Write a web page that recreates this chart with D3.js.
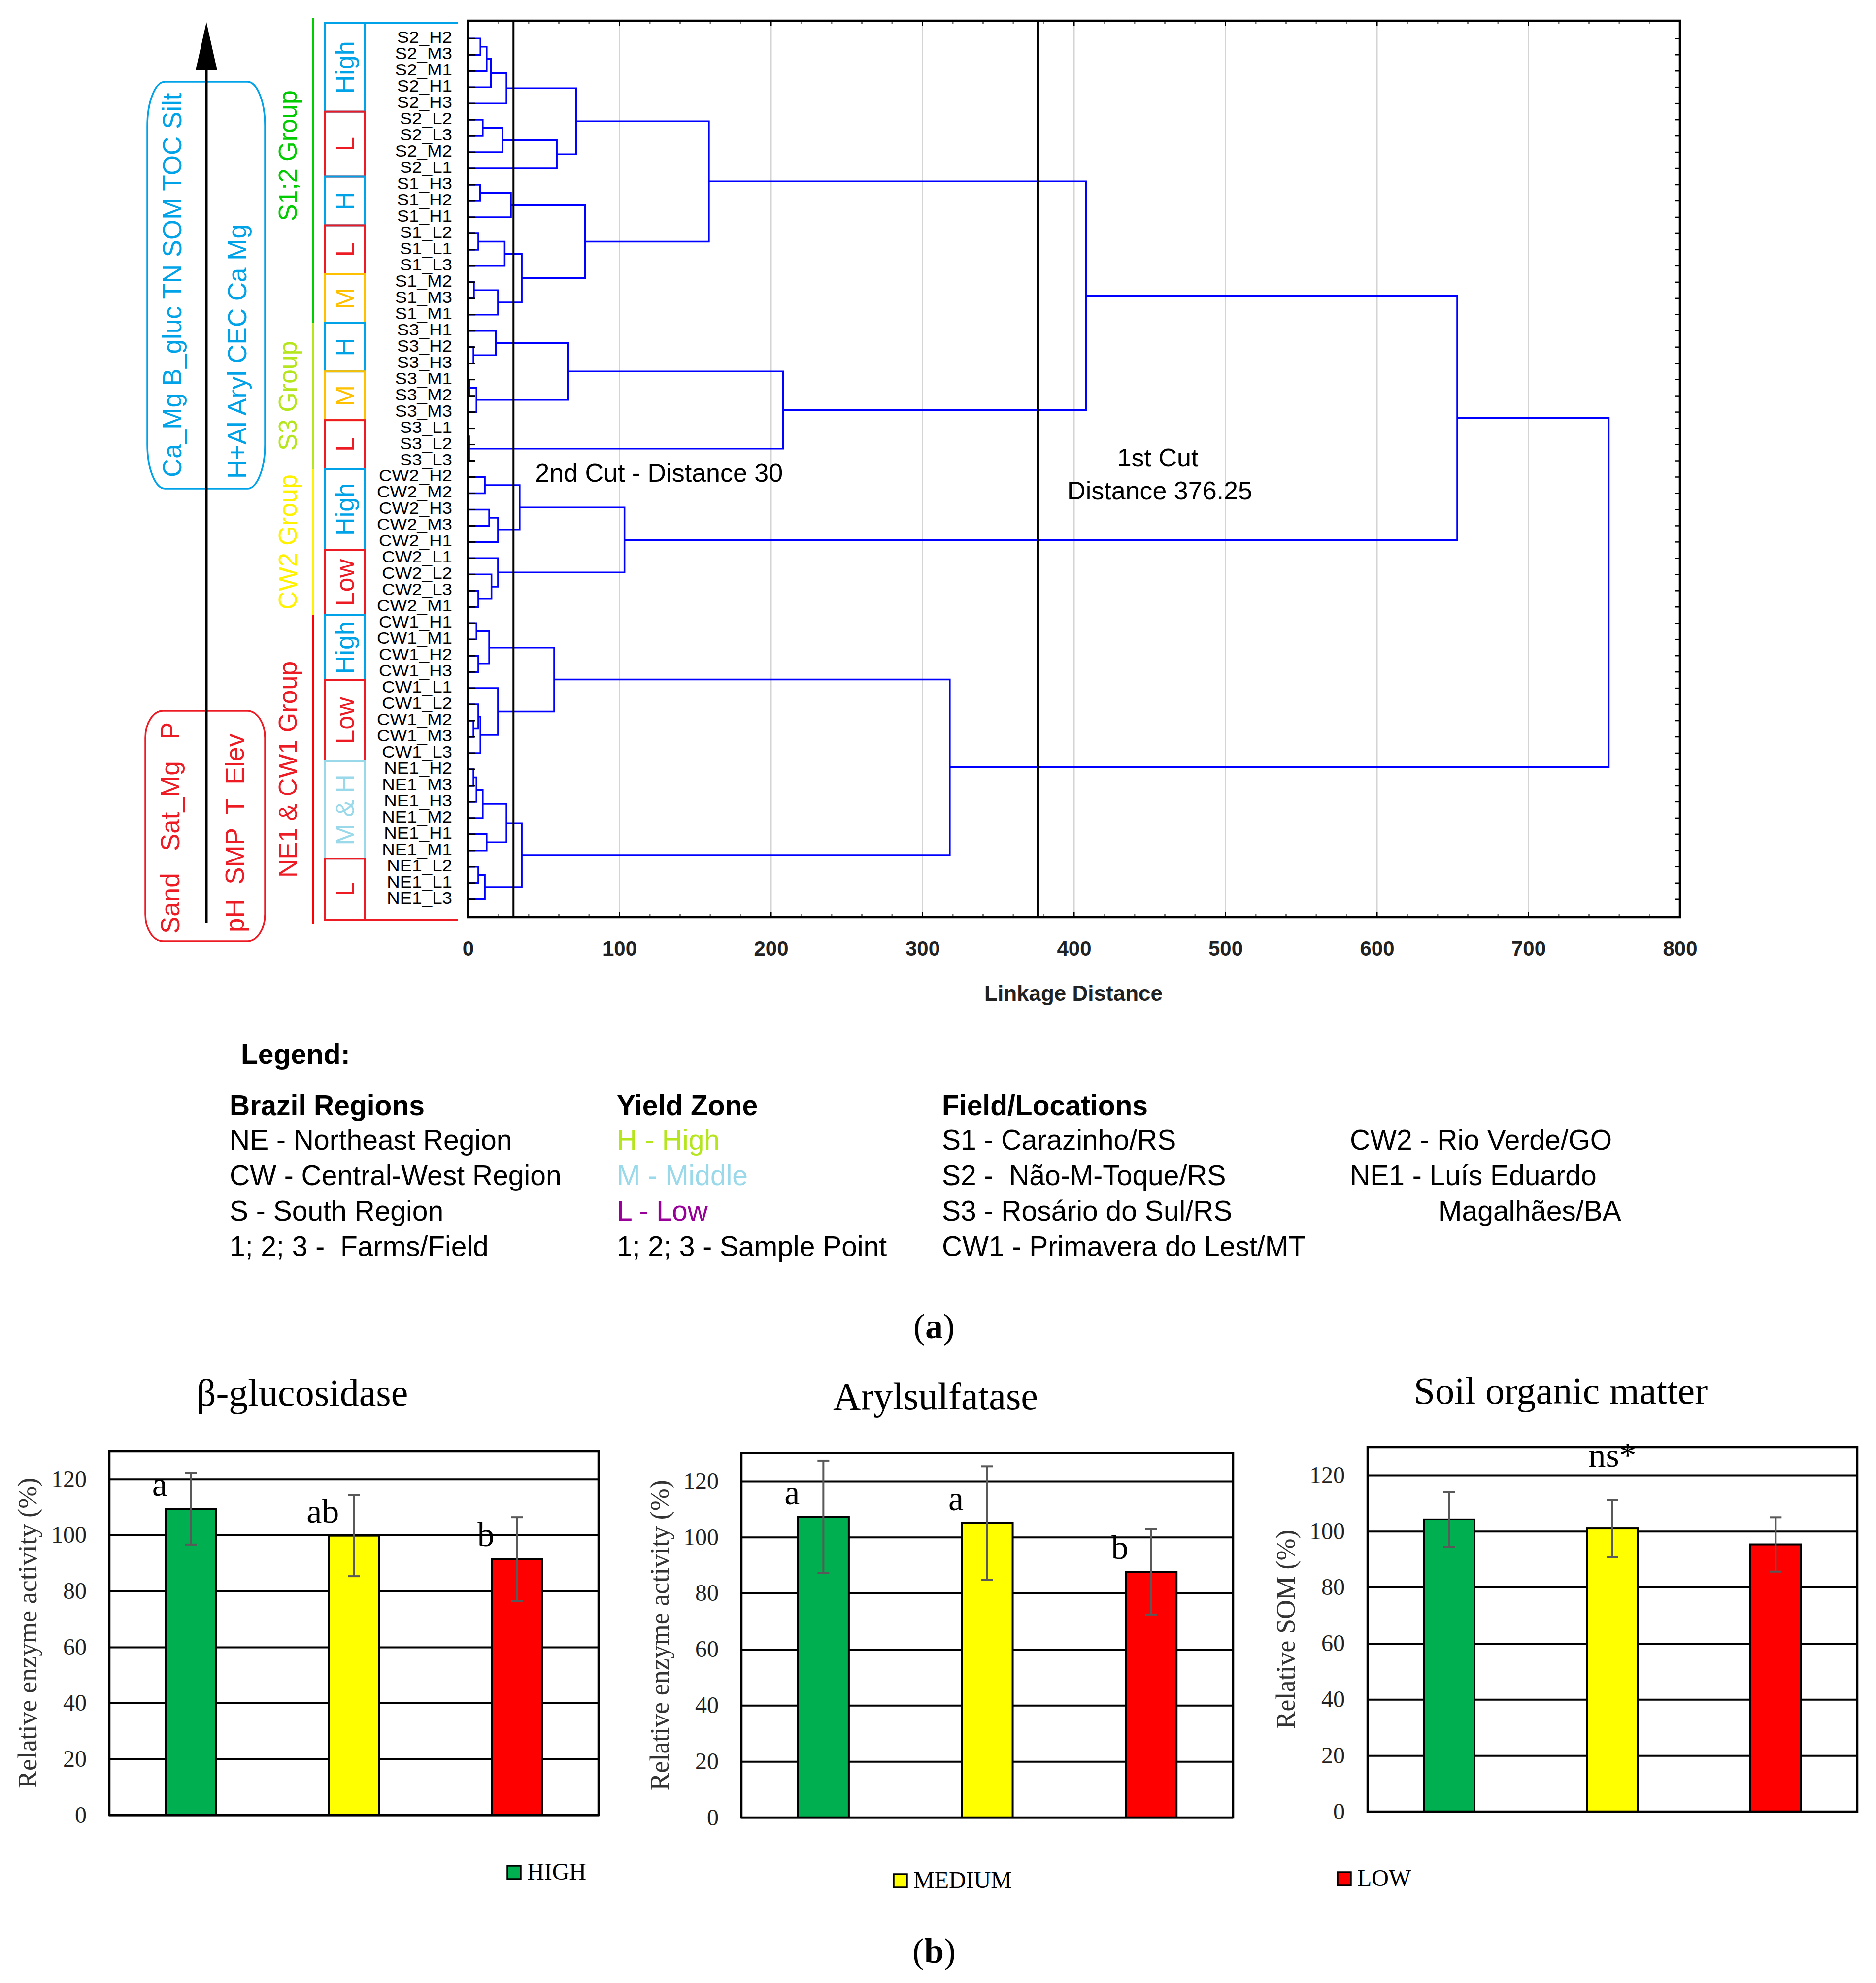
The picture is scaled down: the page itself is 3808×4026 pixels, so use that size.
<!DOCTYPE html>
<html>
<head>
<meta charset="utf-8">
<script src="https://cdn.jsdelivr.net/npm/d3@7"></script>
<style>
  html, body { margin: 0; padding: 0; background: #fff; }
  svg { display: block; }
  text { white-space: pre; }
</style>
</head>
<body>
<svg id="chart" width="3808" height="4026"></svg>
<script>
// ---- dendrogram data ----
const leafLabels = [
  'S2_H2', 'S2_M3', 'S2_M1', 'S2_H1', 'S2_H3', 'S2_L2', 'S2_L3', 'S2_M2', 'S2_L1',
  'S1_H3', 'S1_H2', 'S1_H1', 'S1_L2', 'S1_L1', 'S1_L3', 'S1_M2', 'S1_M3', 'S1_M1',
  'S3_H1', 'S3_H2', 'S3_H3', 'S3_M1', 'S3_M2', 'S3_M3', 'S3_L1', 'S3_L2', 'S3_L3',
  'CW2_H2', 'CW2_M2', 'CW2_H3', 'CW2_M3', 'CW2_H1', 'CW2_L1', 'CW2_L2', 'CW2_L3', 'CW2_M1',
  'CW1_H1', 'CW1_M1', 'CW1_H2', 'CW1_H3', 'CW1_L1', 'CW1_L2', 'CW1_M2', 'CW1_M3', 'CW1_L3',
  'NE1_H2', 'NE1_M3', 'NE1_H3', 'NE1_M2', 'NE1_H1', 'NE1_M1', 'NE1_L2', 'NE1_L1', 'NE1_L3'
];

// [left, right, linkage distance]; 'mN' is the cluster made by the Nth row
const merges = [
  ['S2_H2', 'S2_M3', 8.2], ['m1', 'S2_M1', 12.3], ['m2', 'S2_H1', 15.2], ['m3', 'S2_H3', 25.4],
  ['S2_L2', 'S2_L3', 9.7], ['m5', 'S2_M2', 22.7], ['m6', 'S2_L1', 58.6], ['m4', 'm7', 71.4],
  ['S1_H3', 'S1_H2', 7.9], ['m9', 'S1_H1', 28.3], ['S1_L2', 'S1_L1', 6.8], ['m11', 'S1_L3', 24.2],
  ['S1_M2', 'S1_M3', 3.9], ['m13', 'S1_M1', 19.8], ['m12', 'm14', 35.5], ['m10', 'm15', 77.2],
  ['m8', 'm16', 159],
  ['S3_H2', 'S3_H3', 3.6], ['S3_H1', 'm18', 18.4], ['S3_M1', 'S3_M2', 1.0], ['m20', 'S3_M3', 5.6],
  ['m19', 'm21', 65.9], ['S3_L1', 'S3_L2', 0.4], ['m23', 'S3_L3', 0.7], ['m22', 'm24', 208],
  ['m17', 'm25', 408],
  ['CW2_H2', 'CW2_M2', 11.1], ['CW2_H3', 'CW2_M3', 14.0], ['m28', 'CW2_H1', 19.8], ['m27', 'm29', 34.1],
  ['CW2_L3', 'CW2_M1', 6.8], ['CW2_L2', 'm31', 15.5], ['CW2_L1', 'm32', 19.8], ['m30', 'm33', 103.3],
  ['m26', 'm34', 653],
  ['CW1_H1', 'CW1_M1', 5.6], ['CW1_H2', 'CW1_H3', 6.8], ['m36', 'm37', 14.0],
  ['CW1_M2', 'CW1_M3', 3.6], ['CW1_L2', 'm39', 6.8], ['m40', 'CW1_L3', 8.2], ['CW1_L1', 'm41', 19.8],
  ['m38', 'm42', 56.9],
  ['NE1_H2', 'NE1_M3', 3.6], ['m44', 'NE1_H3', 5.6], ['m45', 'NE1_M2', 9.7], ['NE1_H1', 'NE1_M1', 12.3],
  ['m46', 'm47', 25.4], ['NE1_L2', 'NE1_L1', 6.8], ['m49', 'NE1_L3', 11.1], ['m48', 'm50', 35.5],
  ['m43', 'm51', 318],
  ['m35', 'm52', 753]
];

const distanceTicks = [0, 100, 200, 300, 400, 500, 600, 700, 800];
const cutDistances = [30, 376.25];

const zoneLabels = ['High', 'L', 'H', 'L', 'M', 'H', 'M', 'L', 'High', 'Low', 'High', 'Low', 'M & H', 'L'];
const zoneFirstLeaf = [0, 5, 9, 12, 15, 18, 21, 24, 27, 32, 36, 40, 45, 51];
const zoneLastLeaf = [4, 8, 11, 14, 17, 20, 23, 26, 31, 35, 39, 44, 50, 53];

const groupNames = ['S1;2 Group', 'S3 Group', 'CW2 Group', 'NE1 & CW1 Group'];
const groupFirstLeaf = [0, 18, 27, 36];
const groupLastLeaf = [17, 26, 35, 53];
const groupColors = ['#00CC00', '#B5E61D', '#FFF200', '#FF0000'];

const highVars = ['Ca_Mg B_gluc TN SOM TOC Silt', 'H+Al Aryl CEC Ca Mg'];
const lowVars = ['Sand   Sat_Mg   P', 'pH  SMP  T  Elev'];

// ---- legend text ----
const legendHeaders = ['Brazil Regions', 'Yield Zone', 'Field/Locations'];
const regionItems = ['NE - Northeast Region', 'CW - Central-West Region', 'S - South Region', '1; 2; 3 -  Farms/Field'];
const yieldItems = ['H - High', 'M - Middle', 'L - Low', '1; 2; 3 - Sample Point'];
const yieldItemColors = ['#B5E61D', '#99D9EA', '#990099', '#000000'];
const locationItems = ['S1 - Carazinho/RS', 'S2 -  Não-M-Toque/RS', 'S3 - Rosário do Sul/RS', 'CW1 - Primavera do Lest/MT'];
const locationItems2 = ['CW2 - Rio Verde/GO', 'NE1 - Luís Eduardo', 'Magalhães/BA'];

// ---- bar chart data ----
const zones = ['HIGH', 'MEDIUM', 'LOW'];
const zoneFill = ['#00B050', '#FFFF00', '#FF0000'];
const panelTitles = ['β-glucosidase', 'Arylsulfatase', 'Soil organic matter'];
const panelYTitles = ['Relative enzyme activity (%)', 'Relative enzyme activity (%)', 'Relative SOM (%)'];
const bglucMean = [109.4, 99.8, 91.4];
const bglucErr = [12.8, 14.5, 15.0];
const bglucLetters = ['a', 'ab', 'b'];
const arylMean = [107.2, 105.0, 87.6];
const arylErr = [20.0, 20.2, 15.2];
const arylLetters = ['a', 'a', 'b'];
const somMean = [104.2, 101.0, 95.3];
const somErr = [9.8, 10.2, 9.7];
const somLetters = ['', '', ''];
const somNote = 'ns*';
const barTicks = [0, 20, 40, 60, 80, 100, 120];

const SANS = 'Liberation Sans, Arial, sans-serif';
const SERIF = 'Liberation Serif, Times New Roman, serif';
const CYAN = '#00A2E8';
const RED = '#ED1C24';
const zoneColor = { 'High': CYAN, 'H': CYAN, 'L': RED, 'Low': RED, 'M': '#FFC000', 'M & H': '#99D9EA' };

const svg = d3.select('#chart');
svg.append('rect').attr('width', 3808).attr('height', 4026).attr('fill', '#fff');

// ================= dendrogram =================
const dendro = { left: 950, right: 3410, top: 42, bottom: 1862 };
const x = d3.scaleLinear().domain([0, 800]).range([dendro.left, dendro.right]);
const y = d3.scalePoint().domain(leafLabels).range([dendro.top, dendro.bottom]).padding(1.1);
const step = y.step();

const dg = svg.append('g');

dg.selectAll('line.grid')
  .data(distanceTicks.filter(t => t > 0 && t < 800))
  .enter().append('line')
  .attr('x1', d => x(d)).attr('x2', d => x(d))
  .attr('y1', dendro.top).attr('y2', dendro.bottom)
  .attr('stroke', '#d4d4d4').attr('stroke-width', 3);

// build cluster tree
const nodes = {};
leafLabels.forEach(l => { nodes[l] = { h: 0, y: y(l) }; });
const links = [];
merges.forEach((m, i) => {
  const a = nodes[m[0]], b = nodes[m[1]];
  links.push({ a, b, h: m[2] });
  nodes['m' + (i + 1)] = { h: m[2], y: (a.y + b.y) / 2 };
});

dg.selectAll('path.link')
  .data(links)
  .enter().append('path')
  .attr('fill', 'none')
  .attr('stroke', '#0000FF')
  .attr('stroke-width', 3.5)
  .attr('d', d => `M${x(d.a.h)},${d.a.y}H${x(d.h)}V${d.b.y}H${x(d.b.h)}`);

dg.selectAll('line.cut')
  .data(cutDistances)
  .enter().append('line')
  .attr('x1', d => x(d)).attr('x2', d => x(d))
  .attr('y1', dendro.top).attr('y2', dendro.bottom)
  .attr('stroke', '#000').attr('stroke-width', 4);

// tick marks on the frame
const minorTicks = d3.range(20, 800, 20);
[dendro.top, dendro.bottom].forEach((yy, k) => {
  const dir = k === 0 ? 1 : -1;
  dg.selectAll(null)
    .data(minorTicks)
    .enter().append('line')
    .attr('x1', d => x(d)).attr('x2', d => x(d))
    .attr('y1', yy).attr('y2', d => yy + dir * (d % 100 === 0 ? 10 : 6))
    .attr('stroke', d => d % 100 === 0 ? '#000' : '#777')
    .attr('stroke-width', 3);
});
dg.selectAll('line.rtick')
  .data(leafLabels)
  .enter().append('line')
  .attr('x1', dendro.right - 10).attr('x2', dendro.right)
  .attr('y1', d => y(d)).attr('y2', d => y(d))
  .attr('stroke', '#000').attr('stroke-width', 2.5);
dg.selectAll('line.ltick')
  .data(leafLabels)
  .enter().append('line')
  .attr('x1', dendro.left).attr('x2', dendro.left + 14)
  .attr('y1', d => y(d)).attr('y2', d => y(d))
  .attr('stroke', '#000').attr('stroke-width', 3);

dg.append('rect')
  .attr('x', dendro.left).attr('y', dendro.top)
  .attr('width', dendro.right - dendro.left).attr('height', dendro.bottom - dendro.top)
  .attr('fill', 'none').attr('stroke', '#000').attr('stroke-width', 4.5);

dg.selectAll('text.leaf')
  .data(leafLabels)
  .enter().append('text')
  .attr('transform', d => `translate(918,${y(d) + 9}) scale(1.08,1)`)
  .attr('text-anchor', 'end')
  .attr('font-family', SANS).attr('font-size', 34)
  .text(d => d);

const xAxis = dg.append('g')
  .attr('transform', `translate(0,${dendro.bottom})`)
  .call(d3.axisBottom(x).tickValues(distanceTicks).tickSize(0).tickPadding(48));
xAxis.select('.domain').remove();
xAxis.selectAll('text')
  .attr('font-family', SANS).attr('font-size', 42).attr('font-weight', 'bold').attr('fill', '#222');

dg.append('text')
  .attr('x', 2179).attr('y', 2032)
  .attr('text-anchor', 'middle')
  .attr('font-family', SANS).attr('font-size', 44).attr('font-weight', 'bold').attr('fill', '#222')
  .text('Linkage Distance');

dg.append('text')
  .attr('x', x(cutDistances[0]) + 44).attr('y', 978)
  .attr('font-family', SANS).attr('font-size', 52)
  .text('2nd Cut - Distance 30');
dg.append('text')
  .attr('x', 2350).attr('y', 947)
  .attr('text-anchor', 'middle')
  .attr('font-family', SANS).attr('font-size', 52)
  .text('1st Cut');
dg.append('text')
  .attr('x', 2354).attr('y', 1014)
  .attr('text-anchor', 'middle')
  .attr('font-family', SANS).attr('font-size', 52)
  .text('Distance 376.25');

// ---- yield zone boxes ----
const zoneTop = i => zoneFirstLeaf[i] === 0 ? dendro.top + 5 : y(leafLabels[zoneFirstLeaf[i]]) - step / 2;
const zoneBottom = i => zoneLastLeaf[i] === leafLabels.length - 1 ? dendro.bottom + 5 : y(leafLabels[zoneLastLeaf[i]]) + step / 2;
const boxL = 659, boxR = 740;

const zg = svg.append('g');
zg.selectAll('rect')
  .data(zoneLabels)
  .enter().append('rect')
  .attr('x', boxL).attr('y', (d, i) => zoneTop(i))
  .attr('width', boxR - boxL).attr('height', (d, i) => zoneBottom(i) - zoneTop(i))
  .attr('fill', 'none')
  .attr('stroke', d => zoneColor[d]).attr('stroke-width', 4);
zg.append('line')
  .attr('x1', boxR).attr('x2', 930).attr('y1', zoneTop(0)).attr('y2', zoneTop(0))
  .attr('stroke', zoneColor[zoneLabels[0]]).attr('stroke-width', 4);
const lastZone = zoneLabels.length - 1;
zg.append('line')
  .attr('x1', boxR).attr('x2', 930).attr('y1', zoneBottom(lastZone)).attr('y2', zoneBottom(lastZone))
  .attr('stroke', zoneColor[zoneLabels[lastZone]]).attr('stroke-width', 4);
zg.selectAll('text')
  .data(zoneLabels)
  .enter().append('text')
  .attr('transform', (d, i) => `translate(${(boxL + boxR) / 2},${(zoneTop(i) + zoneBottom(i)) / 2}) rotate(-90)`)
  .attr('dy', '0.35em')
  .attr('text-anchor', 'middle')
  .attr('font-family', SANS).attr('font-size', 52)
  .attr('fill', d => zoneColor[d])
  .text(d => d);

// ---- group bars ----
const groupTop = i => i === 0 ? dendro.top - 5 : y(leafLabels[groupFirstLeaf[i]]) - step / 2;
const groupBottom = i => i === groupNames.length - 1 ? dendro.bottom + 14 : y(leafLabels[groupLastLeaf[i]]) + step / 2;
const gg = svg.append('g');
gg.selectAll('line')
  .data(groupNames)
  .enter().append('line')
  .attr('x1', 636).attr('x2', 636)
  .attr('y1', (d, i) => groupTop(i)).attr('y2', (d, i) => groupBottom(i))
  .attr('stroke', (d, i) => groupColors[i]).attr('stroke-width', 4);
gg.selectAll('text')
  .data(groupNames)
  .enter().append('text')
  .attr('transform', (d, i) => `translate(602,${(groupTop(i) + groupBottom(i)) / 2 - (i === 0 ? 30 : 0)}) rotate(-90)`)
  .attr('text-anchor', 'middle')
  .attr('font-family', SANS).attr('font-size', 52)
  .attr('fill', (d, i) => i === 3 ? RED : groupColors[i])
  .text(d => d);

// ---- variables driving the split (left side) ----
const lg = svg.append('g');
lg.append('rect')
  .attr('x', 299).attr('y', 166).attr('width', 239).attr('height', 826)
  .attr('rx', 36).attr('ry', 90)
  .attr('fill', 'none').attr('stroke', CYAN).attr('stroke-width', 3.5);
lg.append('rect')
  .attr('x', 295).attr('y', 1443).attr('width', 243).attr('height', 468)
  .attr('rx', 36).attr('ry', 55)
  .attr('fill', 'none').attr('stroke', RED).attr('stroke-width', 3.5);
lg.append('line')
  .attr('x1', 419).attr('x2', 419).attr('y1', 140).attr('y2', 1874)
  .attr('stroke', '#000').attr('stroke-width', 5);
lg.append('path')
  .attr('d', 'M419,45 L441,143 L397,143 Z')
  .attr('fill', '#000');

lg.selectAll('text.hv')
  .data(highVars)
  .enter().append('text')
  .attr('transform', (d, i) => `translate(${i === 0 ? 368 : 500},${i === 0 ? 969 : 972}) rotate(-90)`)
  .attr('font-family', SANS).attr('font-size', 53)
  .attr('fill', CYAN)
  .text(d => d);
lg.selectAll('text.lv')
  .data(lowVars)
  .enter().append('text')
  .attr('transform', (d, i) => `translate(${i === 0 ? 364 : 495},${i === 0 ? 1896 : 1893}) rotate(-90)`)
  .attr('font-family', SANS).attr('font-size', 53)
  .attr('fill', RED)
  .text(d => d);

// ================= legend =================
const leg = svg.append('g').attr('font-family', SANS).attr('font-size', 57);
leg.append('text').attr('x', 489).attr('y', 2160).attr('font-weight', 'bold').text('Legend:');
const colX = [466, 1252, 1912, 2740];
const rowY = [2334, 2406, 2478, 2550];
leg.selectAll('text.hdr')
  .data(legendHeaders)
  .enter().append('text')
  .attr('x', (d, i) => colX[i]).attr('y', 2264)
  .attr('font-weight', 'bold')
  .text(d => d);
leg.selectAll('text.c1')
  .data(regionItems)
  .enter().append('text')
  .attr('x', colX[0]).attr('y', (d, i) => rowY[i])
  .text(d => d);
leg.selectAll('text.c2')
  .data(yieldItems)
  .enter().append('text')
  .attr('x', colX[1]).attr('y', (d, i) => rowY[i])
  .attr('fill', (d, i) => yieldItemColors[i])
  .text(d => d);
leg.selectAll('text.c3')
  .data(locationItems)
  .enter().append('text')
  .attr('x', colX[2]).attr('y', (d, i) => rowY[i])
  .text(d => d);
leg.selectAll('text.c4')
  .data(locationItems2)
  .enter().append('text')
  .attr('x', colX[3]).attr('dx', (d, i) => i === 2 ? 180 : 0)
  .attr('y', (d, i) => rowY[i])
  .text(d => d);

const addPanelTag = (cx, by, letter) => {
  const t = svg.append('text')
    .attr('x', cx).attr('y', by)
    .attr('text-anchor', 'middle')
    .attr('font-family', SERIF).attr('font-size', 72);
  t.append('tspan').text('(');
  t.append('tspan').attr('font-weight', 'bold').text(letter);
  t.append('tspan').text(')');
};
addPanelTag(1896, 2717, 'a');
addPanelTag(1896, 3985, 'b');

// ================= bar panels =================
const panels = [
  { left: 222, right: 1215, top: 2946, bottom: 3685, titleY: 2854, mean: bglucMean, err: bglucErr, letters: bglucLetters, legX: 1030, legY: 3788 },
  { left: 1505, right: 2503, top: 2950, bottom: 3690, titleY: 2861, mean: arylMean, err: arylErr, letters: arylLetters, legX: 1814, legY: 3805 },
  { left: 2776, right: 3770, top: 2938, bottom: 3678, titleY: 2850, mean: somMean, err: somErr, letters: somLetters, legX: 2715, legY: 3801, note: somNote }
];

panels.forEach((p, pi) => {
  const W = p.right - p.left;
  const g = svg.append('g').attr('transform', `translate(${p.left},${p.top})`);
  const H = p.bottom - p.top;
  const yb = d3.scaleLinear().domain([0, 130]).range([H, 0]);
  const xb = d3.scaleBand().domain(zones).range([0, W]).paddingInner(0.69).paddingOuter(0.345);

  const ax = g.append('g')
    .call(d3.axisLeft(yb).tickValues(barTicks).tickSize(-W).tickPadding(46));
  ax.select('.domain').remove();
  ax.selectAll('line').attr('stroke', '#000').attr('stroke-width', 4);
  ax.selectAll('text')
    .attr('font-family', SERIF).attr('font-size', 48).attr('fill', '#222');

  g.selectAll('rect.bar')
    .data(zones)
    .enter().append('rect')
    .attr('x', d => xb(d))
    .attr('y', (d, i) => yb(p.mean[i]))
    .attr('width', xb.bandwidth())
    .attr('height', (d, i) => H - yb(p.mean[i]))
    .attr('fill', (d, i) => zoneFill[i])
    .attr('stroke', '#000').attr('stroke-width', 4);

  const cx = d => xb(d) + xb.bandwidth() / 2;
  g.selectAll('line.err')
    .data(zones)
    .enter().append('line')
    .attr('x1', cx).attr('x2', cx)
    .attr('y1', (d, i) => yb(p.mean[i] - p.err[i]))
    .attr('y2', (d, i) => yb(p.mean[i] + p.err[i]))
    .attr('stroke', '#595959').attr('stroke-width', 4);
  [-1, 1].forEach(s => {
    g.selectAll(null)
      .data(zones)
      .enter().append('line')
      .attr('x1', d => cx(d) - 12).attr('x2', d => cx(d) + 12)
      .attr('y1', (d, i) => yb(p.mean[i] + s * p.err[i]))
      .attr('y2', (d, i) => yb(p.mean[i] + s * p.err[i]))
      .attr('stroke', '#595959').attr('stroke-width', 4);
  });

  g.selectAll('text.letter')
    .data(zones)
    .enter().append('text')
    .attr('x', d => xb(d) - 12)
    .attr('y', (d, i) => yb(p.mean[i]) - 26)
    .attr('text-anchor', 'middle')
    .attr('font-family', SERIF).attr('font-size', 70)
    .text((d, i) => p.letters[i]);

  if (p.note) {
    g.append('text')
      .attr('x', W / 2).attr('y', yb(123))
      .attr('text-anchor', 'middle')
      .attr('font-family', SERIF).attr('font-size', 70)
      .text(p.note);
  }

  g.append('rect')
    .attr('width', W).attr('height', H)
    .attr('fill', 'none').attr('stroke', '#000').attr('stroke-width', 4.5);

  svg.append('text')
    .attr('x', (p.left + p.right) / 2 - 105).attr('y', p.titleY)
    .attr('text-anchor', 'middle')
    .attr('font-family', SERIF).attr('font-size', 78)
    .text(panelTitles[pi]);

  svg.append('text')
    .attr('transform', `translate(${p.left - 167},${(p.top + p.bottom) / 2}) rotate(-90)`)
    .attr('dy', '0.35em')
    .attr('text-anchor', 'middle')
    .attr('font-family', SERIF).attr('font-size', 54).attr('fill', '#333')
    .text(panelYTitles[pi]);

  svg.append('rect')
    .attr('x', p.legX).attr('y', p.legY)
    .attr('width', 27).attr('height', 27)
    .attr('fill', zoneFill[pi]).attr('stroke', '#000').attr('stroke-width', 3.5);
  svg.append('text')
    .attr('x', p.legX + 40).attr('y', p.legY + 28)
    .attr('font-family', SERIF).attr('font-size', 48)
    .text(zones[pi]);
});
</script>
</body>
</html>
